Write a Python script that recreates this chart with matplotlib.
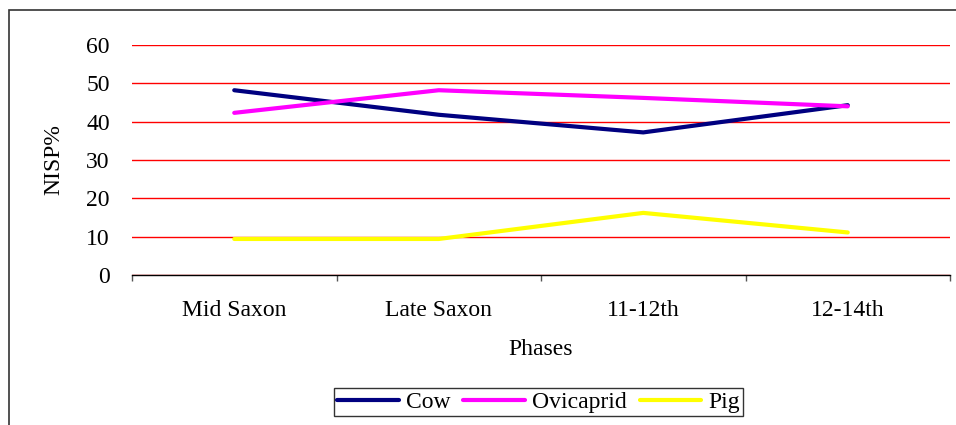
import matplotlib
matplotlib.use('Agg')
import matplotlib.pyplot as plt
from matplotlib.patches import Rectangle
import numpy as np

phases = ['Mid Saxon', 'Late Saxon', '11-12th', '12-14th']
cow = [48.2, 41.8, 37.2, 44.3]
ovicaprid = [42.3, 48.2, 46.2, 44.0]
pig = [9.4, 9.4, 16.2, 11.1]
y_ticks = [0, 10, 20, 30, 40, 50, 60]

plt.rcParams['font.family'] = ['Liberation Serif', 'DejaVu Serif']
fs = 17

W, H = 956, 425
fig = plt.figure(figsize=(W / 100, H / 100), dpi=100)
ax = fig.add_axes([132 / W, 1 - 275 / H, (950 - 132) / W, (275 - 45) / H])

x = np.arange(len(phases))
ax.plot(x, cow, color='#000080', linewidth=3, label='Cow', solid_capstyle='round', zorder=3)
ax.plot(x, ovicaprid, color='#FF00FF', linewidth=3, label='Ovicaprid', solid_capstyle='round', zorder=3)
ax.plot(x, pig, color='#FFFF00', linewidth=3, label='Pig', solid_capstyle='round', zorder=3)

ax.set_xlim(-0.5, len(phases) - 0.5)
ax.set_ylim(0, 60)
ax.set_yticks(y_ticks)
ax.set_yticklabels([str(v) for v in y_ticks], fontsize=fs)
ax.tick_params(axis='y', length=0, pad=16)
ax.yaxis.grid(True, color='#FF0000', linewidth=1)
ax.set_axisbelow(True)

ax.set_xticks(x)
ax.set_xticklabels(phases, fontsize=fs)
ax.set_xticks(np.arange(-0.5, len(phases)), minor=True)
ax.tick_params(axis='x', which='major', length=0, pad=18)
ax.tick_params(axis='x', which='minor', length=4, width=1, direction='out', color='#555555')

for spine in ['left', 'right', 'top']:
    ax.spines[spine].set_visible(False)
ax.spines['bottom'].set_linewidth(1)
ax.spines['bottom'].set_zorder(2.5)

ax.set_xlabel('Phases', fontsize=fs, labelpad=13)
ax.set_ylabel('NISP%', fontsize=fs, labelpad=16)

leg = fig.legend(loc='center', bbox_to_anchor=(538.5 / W, 1 - 402 / H), ncol=3,
                 fontsize=fs, frameon=True, fancybox=False, handlelength=2.6,
                 handletextpad=0.3, columnspacing=0.55, borderpad=0.15)
leg.get_frame().set_edgecolor('black')
leg.get_frame().set_linewidth(1)
for line in leg.get_lines():
    line.set_linewidth(3)

fig.patches.append(Rectangle((8.5 / W, -0.1), 1.2, 1.1 - 10.5 / H, transform=fig.transFigure,
                             fill=False, edgecolor='#333333', linewidth=1.2, clip_on=False))

fig.savefig('out.png', dpi=100)
